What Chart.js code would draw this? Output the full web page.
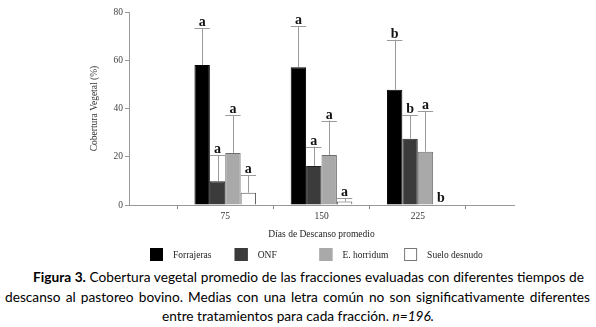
<!DOCTYPE html>
<html><head><meta charset="utf-8">
<script src="https://cdn.jsdelivr.net/npm/chart.js@4"></script>
<style>
body{margin:0;background:#fff;width:596px;height:327px;overflow:hidden;position:relative}
#wrap{position:absolute;left:0;top:0;width:596px;height:265px}
.cap{position:absolute;font-family:Lato,'Open Sans',sans-serif;font-size:13.7px;color:#000;white-space:nowrap;line-height:18px}
.j{text-align:justify;text-align-last:justify}
</style></head><body>
<div id="wrap"><canvas id="c" width="596" height="265"></canvas></div>
<div class="cap j" style="left:33px;top:268px;width:551px"><b>Figura 3.</b> Cobertura vegetal promedio de las fracciones evaluadas con diferentes tiempos de</div>
<div class="cap j" style="left:5px;top:288px;width:585px">descanso al pastoreo bovino. Medias con una letra común no son significativamente diferentes</div>
<div class="cap" style="left:0;top:307px;width:596px;text-align:center">entre tratamientos para cada fracción. <i>n=196.</i></div>
<script>
const categories = [75, 150, 225];
const seriesNames = ['Forrajeras', 'ONF', 'E. horridum', 'Suelo desnudo'];
const forrajeras = [58.0, 57.1, 47.8];
const onf = [9.8, 16.2, 27.5];
const horridum = [21.6, 20.7, 22.1];
const suelo = [5.1, 1.4, 0];
const forrajerasErr = [73.2, 74.2, 68.5];
const onfErr = [20.7, 24.2, 37.3];
const horridumErr = [37.2, 35.0, 39.0];
const sueloErr = [12.3, 3.0, null];
const forrajerasLetters = ['a', 'a', 'b'];
const onfLetters = ['a', 'a', 'b'];
const horridumLetters = ['a', 'a', 'a'];
const sueloLetters = ['a', 'a', 'b'];
const yTicks = [0, 20, 40, 60, 80];

const values = [forrajeras, onf, horridum, suelo];
const errs = [forrajerasErr, onfErr, horridumErr, sueloErr];
const letters = [forrajerasLetters, onfLetters, horridumLetters, sueloLetters];
const fills = ['#000000', '#3b3b3b', '#a9a9a9', '#ffffff'];
const borders = ['#000000', '#222222', '#6e6e6e', '#555555'];

const serif = "'Liberation Serif','DejaVu Serif',serif";

const errPlugin = {
  id: 'errLetters',
  afterDatasetsDraw(chart) {
    const ctx = chart.ctx;
    const y = chart.scales.y;
    chart.data.datasets.forEach((ds, di) => {
      const meta = chart.getDatasetMeta(di);
      meta.data.forEach((bar, i) => {
        const top = errs[di][i];
        const half = bar.width / 2;
        let labelY;
        ctx.save();
        if (top !== null && top !== undefined) {
          const yTop = y.getPixelForValue(top);
          ctx.strokeStyle = '#9a9a9a';
          ctx.lineWidth = 1;
          ctx.beginPath();
          ctx.moveTo(Math.round(bar.x) + 0.5, bar.y);
          ctx.lineTo(Math.round(bar.x) + 0.5, yTop);
          ctx.moveTo(bar.x - half, Math.round(yTop) + 0.5);
          ctx.lineTo(bar.x + half, Math.round(yTop) + 0.5);
          ctx.stroke();
          labelY = yTop - 2;
        } else {
          labelY = bar.y - 3;
        }
        ctx.fillStyle = '#111';
        ctx.font = 'bold 14px ' + serif;
        ctx.textAlign = 'center';
        ctx.textBaseline = 'alphabetic';
        ctx.fillText(letters[di][i], bar.x, labelY);
        ctx.restore();
      });
    });
  }
};

const legendPlugin = {
  id: 'customLegend',
  afterDraw(chart) {
    const ctx = chart.ctx;
    const a = chart.chartArea;
    ctx.save();
    chart.data.datasets.forEach((ds, i) => {
      const x = a.left + 21 + i * 84.7;
      const yy = 248;
      ctx.fillStyle = fills[i];
      ctx.fillRect(x, yy, 13, 13);
      ctx.strokeStyle = i === 3 ? '#777' : fills[i];
      ctx.lineWidth = 1;
      ctx.strokeRect(x + 0.5, yy + 0.5, 12, 12);
      ctx.fillStyle = '#222';
      ctx.font = '9.5px ' + serif;
      ctx.textAlign = 'left';
      ctx.textBaseline = 'middle';
      ctx.fillText(ds.label, x + 23, yy + 7);
    });
    ctx.restore();
  }
};

new Chart(document.getElementById('c'), {
  type: 'bar',
  data: {
    datasets: seriesNames.map((name, di) => ({
      label: name,
      data: categories.map((c, i) => ({ x: c, y: values[di][i] })),
      backgroundColor: fills[di],
      borderColor: borders[di],
      borderWidth: 1,
      categoryPercentage: 0.64,
      barPercentage: 1.0
    }))
  },
  options: {
    responsive: false,
    devicePixelRatio: 1,
    animation: false,
    layout: { padding: { left: 89, top: 12, right: 82, bottom: 25 } },
    plugins: { legend: { display: false }, tooltip: { enabled: false } },
    scales: {
      x: {
        type: 'linear',
        min: 0, max: 300,
        offset: false,
        afterFit(s) { s.height = 35; },
        afterBuildTicks(s) { s.ticks = [0, 75, 150, 225, 300].map(v => ({ value: v })); },
        ticks: {
          callback: v => (categories.includes(v) ? String(v) : ''),
          font: { family: serif, size: 9.5 },
          color: '#333',
          padding: 2,
          maxRotation: 0
        },
        grid: { drawOnChartArea: false, tickLength: 4, color: '#888' },
        border: { color: '#999' },
        title: { display: true, text: 'Días de Descanso promedio', font: { family: serif, size: 9.5 }, color: '#222', padding: { top: 5, bottom: 0 } }
      },
      y: {
        min: 0, max: 80,
        afterFit(s) { s.width = 40; },
        afterBuildTicks(s) { s.ticks = yTicks.map(v => ({ value: v })); },
        ticks: { font: { family: serif, size: 9.5 }, color: '#444', padding: 2 },
        grid: { drawOnChartArea: false, tickLength: 4, color: '#999' },
        border: { color: '#999' },
        title: { display: true, text: 'Cobertura Vegetal (%)', font: { family: serif, size: 9.5 }, color: '#333', padding: { top: 0, bottom: 0 } }
      }
    }
  },
  plugins: [errPlugin, legendPlugin]
});
</script>
</body></html>
